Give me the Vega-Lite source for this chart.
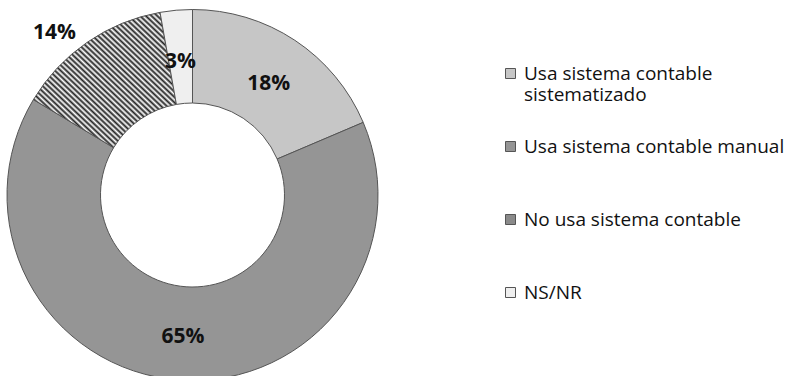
{
  "$schema": "https://vega.github.io/schema/vega-lite/v6.json",
  "width": 385,
  "height": 362,
  "autosize": {"type": "none"},
  "padding": {"left": 0, "top": 14, "right": 406, "bottom": 0},
  "background": "white",
  "config": {"view": {"stroke": null}},
  "data": {
    "values": [
      {"cat": "Usa sistema contable sistematizado", "pct": 18.6, "ord": 1, "label": "18%"},
      {"cat": "Usa sistema contable manual", "pct": 65.0, "ord": 2, "label": "65%"},
      {"cat": "No usa sistema contable", "pct": 13.6, "ord": 3, "label": "14%"},
      {"cat": "NS/NR", "pct": 2.8, "ord": 4, "label": "3%"}
    ]
  },
  "encoding": {
    "theta": {"field": "pct", "type": "quantitative", "stack": true},
    "order": {"field": "ord", "type": "quantitative"}
  },
  "layer": [
    {
      "mark": {"type": "arc", "innerRadius": 92, "outerRadius": 185.5, "stroke": "#555555", "strokeWidth": 1},
      "encoding": {
        "color": {
          "condition": {"test": "datum.ord == 3", "value": {"gradient": "linear", "x1": 0, "y1": 1, "x2": 1, "y2": 0, "stops": [
              {"offset": 0, "color": "#222"}, {"offset": 0.01, "color": "#fff"}, {"offset": 0.02, "color": "#222"}, {"offset": 0.03, "color": "#fff"},
              {"offset": 0.04, "color": "#222"}, {"offset": 0.05, "color": "#fff"}, {"offset": 0.06, "color": "#222"}, {"offset": 0.07, "color": "#fff"},
              {"offset": 0.08, "color": "#222"}, {"offset": 0.09, "color": "#fff"}, {"offset": 0.10, "color": "#222"}, {"offset": 0.11, "color": "#fff"},
              {"offset": 0.12, "color": "#222"}, {"offset": 0.13, "color": "#fff"}, {"offset": 0.14, "color": "#222"}, {"offset": 0.15, "color": "#fff"},
              {"offset": 0.16, "color": "#222"}, {"offset": 0.17, "color": "#fff"}, {"offset": 0.18, "color": "#222"}, {"offset": 0.19, "color": "#fff"},
              {"offset": 0.20, "color": "#222"}, {"offset": 0.21, "color": "#fff"}, {"offset": 0.22, "color": "#222"}, {"offset": 0.23, "color": "#fff"},
              {"offset": 0.24, "color": "#222"}, {"offset": 0.25, "color": "#fff"}, {"offset": 0.26, "color": "#222"}, {"offset": 0.27, "color": "#fff"},
              {"offset": 0.28, "color": "#222"}, {"offset": 0.29, "color": "#fff"}, {"offset": 0.30, "color": "#222"}, {"offset": 0.31, "color": "#fff"},
              {"offset": 0.32, "color": "#222"}, {"offset": 0.33, "color": "#fff"}, {"offset": 0.34, "color": "#222"}, {"offset": 0.35, "color": "#fff"},
              {"offset": 0.36, "color": "#222"}, {"offset": 0.37, "color": "#fff"}, {"offset": 0.38, "color": "#222"}, {"offset": 0.39, "color": "#fff"},
              {"offset": 0.40, "color": "#222"}, {"offset": 0.41, "color": "#fff"}, {"offset": 0.42, "color": "#222"}, {"offset": 0.43, "color": "#fff"},
              {"offset": 0.44, "color": "#222"}, {"offset": 0.45, "color": "#fff"}, {"offset": 0.46, "color": "#222"}, {"offset": 0.47, "color": "#fff"},
              {"offset": 0.48, "color": "#222"}, {"offset": 0.49, "color": "#fff"}, {"offset": 0.50, "color": "#222"}, {"offset": 0.51, "color": "#fff"},
              {"offset": 0.52, "color": "#222"}, {"offset": 0.53, "color": "#fff"}, {"offset": 0.54, "color": "#222"}, {"offset": 0.55, "color": "#fff"},
              {"offset": 0.56, "color": "#222"}, {"offset": 0.57, "color": "#fff"}, {"offset": 0.58, "color": "#222"}, {"offset": 0.59, "color": "#fff"},
              {"offset": 0.60, "color": "#222"}, {"offset": 0.61, "color": "#fff"}, {"offset": 0.62, "color": "#222"}, {"offset": 0.63, "color": "#fff"},
              {"offset": 0.64, "color": "#222"}, {"offset": 0.65, "color": "#fff"}, {"offset": 0.66, "color": "#222"}, {"offset": 0.67, "color": "#fff"},
              {"offset": 0.68, "color": "#222"}, {"offset": 0.69, "color": "#fff"}, {"offset": 0.70, "color": "#222"}, {"offset": 0.71, "color": "#fff"},
              {"offset": 0.72, "color": "#222"}, {"offset": 0.73, "color": "#fff"}, {"offset": 0.74, "color": "#222"}, {"offset": 0.75, "color": "#fff"},
              {"offset": 0.76, "color": "#222"}, {"offset": 0.77, "color": "#fff"}, {"offset": 0.78, "color": "#222"}, {"offset": 0.79, "color": "#fff"},
              {"offset": 0.80, "color": "#222"}, {"offset": 0.81, "color": "#fff"}, {"offset": 0.82, "color": "#222"}, {"offset": 0.83, "color": "#fff"},
              {"offset": 0.84, "color": "#222"}, {"offset": 0.85, "color": "#fff"}, {"offset": 0.86, "color": "#222"}, {"offset": 0.87, "color": "#fff"},
              {"offset": 0.88, "color": "#222"}, {"offset": 0.89, "color": "#fff"}, {"offset": 0.90, "color": "#222"}, {"offset": 0.91, "color": "#fff"},
              {"offset": 0.92, "color": "#222"}, {"offset": 0.93, "color": "#fff"}, {"offset": 0.94, "color": "#222"}, {"offset": 0.95, "color": "#fff"},
              {"offset": 0.96, "color": "#222"}, {"offset": 0.97, "color": "#fff"}, {"offset": 0.98, "color": "#222"}, {"offset": 0.99, "color": "#fff"},
              {"offset": 1, "color": "#222"}
            ]}},
          "field": "cat",
          "type": "nominal",
          "scale": {
            "domain": ["Usa sistema contable sistematizado", "Usa sistema contable manual", "No usa sistema contable", "NS/NR"],
            "range": ["#c6c6c6", "#959595", "#8a8a8a", "#efefef"]
          },
          "legend": {
            "title": null,
            "orient": "none",
            "legendX": 501,
            "legendY": 50,
            "symbolType": "square",
            "symbolSize": 100,
            "symbolStrokeColor": "#555555",
            "symbolStrokeWidth": 1,
            "labelFont": "Open Sans",
            "labelFontSize": 19,
            "labelColor": "#111111",
            "labelOffset": 4,
            "labelLimit": 400,
            "gridAlign": "all",
            "rowPadding": 32,
            "labelExpr": "datum.label == 'Usa sistema contable sistematizado' ? ['Usa sistema contable', 'sistematizado'] : datum.label"
          }
        }
      }
    },
    {
      "mark": {"type": "text", "radius": 138, "dy": 4, "font": "Open Sans", "fontWeight": "bold", "fontSize": 21, "color": "#111111"},
      "encoding": {"text": {"condition": {"test": "datum.ord != 3", "field": "label"}, "value": ""}}
    },
    {
      "mark": {"type": "text", "radius": 216, "dy": 4, "thetaOffset": -0.09, "font": "Open Sans", "fontWeight": "bold", "fontSize": 21, "color": "#111111"},
      "encoding": {"text": {"condition": {"test": "datum.ord == 3", "field": "label"}, "value": ""}}
    }
  ]
}
